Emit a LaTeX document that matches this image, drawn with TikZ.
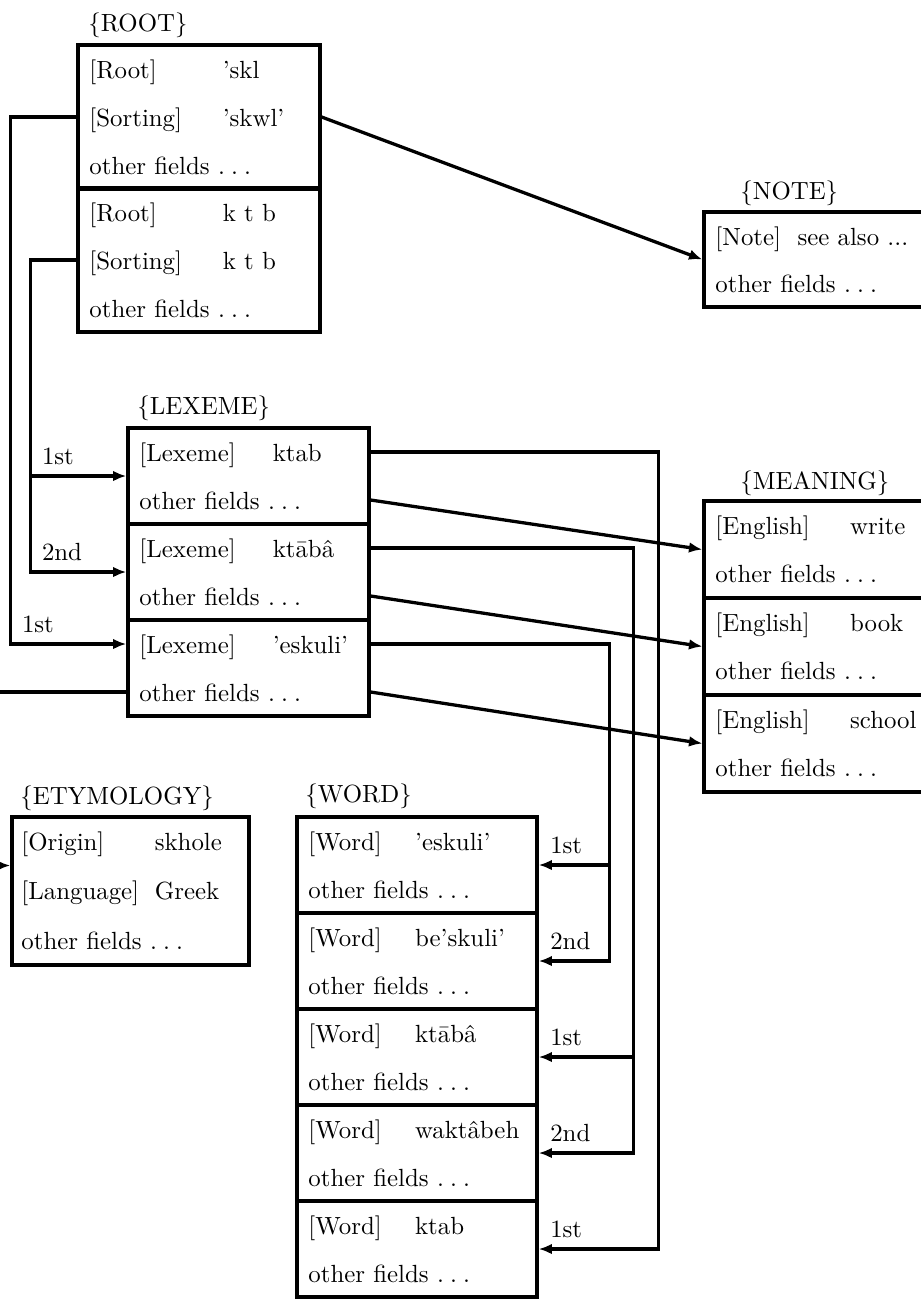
\documentclass[tikz,border=0pt]{standalone}
\usepackage{tikz}
\usetikzlibrary{arrows.meta,positioning,fit,calc}
\tikzset{
  record/.style={draw,line width=1.4pt,inner sep=0pt},
  fld/.style={anchor=west,inner sep=0pt,text height=1.1em,text depth=.25em},
  tag/.style={anchor=base west,inner sep=0pt},
  link/.style={line width=1.4pt},
  arr/.style={link,-{Latex[length=2mm,width=1.6mm]}},
  ordl/.style={anchor=base west,inner sep=0pt,xshift=.15cm,yshift=.17cm},
}
\newcommand{\key}[2]{\makebox[#1][l]{[#2]}}
\newcommand{\sdots}{.\kern.25em.\kern.25em.}

\begin{document}
\begin{tikzpicture}[x=0.015cm,y=-0.015cm,font=\fontsize{10.6}{12.7}\selectfont]
  \useasboundingbox (0,0) rectangle (921,1299);
  % roots
  \node[tag] (roottag) at (88,31) {\{ROOT\}};
  \foreach \i/\t/\v/\s in {1/45/'skl/'skwl',2/188/k t b/k t b}{
    \node[record,fit={(78,\t) (320,\t+144)}] (root\i) {};
    \node[fld] (rootr\i) at (89,\t+24) {\key{2cm}{Root}\v};
    \node[fld] (roots\i) at (89,\t+72) {\key{2cm}{Sorting}\s};
    \node[fld] (rooto\i) at (89,\t+120) {other fields \sdots};}
  % note
  \node[tag] (notetag) at (740,199) {\{NOTE\}};
  \node[record,fit={(704,212) (934,307)}] (note) {};
  \node[fld] (notek) at (715,236) {[Note]\ \ see also ...};
  \node[fld] (noteo) at (715,283) {other fields \sdots};
  % lexemes
  \node[tag] (lextag) at (137,414) {\{LEXEME\}};
  \foreach \i/\t/\v in {1/428/ktab,2/524/ktābâ,3/620/'eskuli'}{
    \node[record,fit={(128,\t) (369,\t+96)}] (lex\i) {};
    \node[fld] (lexk\i) at (139,\t+24) {\key{2cm}{Lexeme}\v};
    \node[fld] (lexo\i) at (139,\t+72) {other fields \sdots};}
  % meanings
  \node[tag] (meantag) at (740,489) {\{MEANING\}};
  \foreach \i/\t/\v in {1/501/write,2/598/book,3/695/school}{
    \node[record,fit={(704,\t) (934,\t+97)}] (mean\i) {};
    \node[fld] (meank\i) at (715,\t+24) {\key{2.02cm}{English}\v};
    \node[fld] (meano\i) at (715,\t+72) {other fields \sdots};}
  % etymology
  \node[tag] (etytag) at (20,804) {\{ETYMOLOGY\}};
  \node[record,fit={(12,817) (249,965)}] (ety) {};
  \node[fld] (etyk) at (21,841) {\key{2cm}{Origin}skhole};
  \node[fld] (etyl) at (21,890) {\key{2cm}{Language}Greek};
  \node[fld] (etyo) at (21,940) {other fields \sdots};
  % words
  \node[tag] (wordtag) at (305,802) {\{WORD\}};
  \foreach \i/\t/\v in {1/817/'eskuli',2/913/be'skuli',3/1009/ktābâ,
                        4/1105/waktâbeh,5/1201/ktab}{
    \node[record,fit={(297,\t) (537,\t+96)}] (word\i) {};
    \node[fld] (wordk\i) at (308,\t+24) {\key{1.6cm}{Word}\v};
    \node[fld] (wordo\i) at (308,\t+72) {other fields \sdots};}

  % root -> lexeme, root -> note
  \coordinate (trunkA) at ($(root1.west)+(-66,0)$);
  \coordinate (trunkB) at ($(root2.west)+(-46,0)$);
  \draw[arr] (root1.west) -- (trunkA) |- (lex3.west |- lexk3) node[ordl,pos=.5] {1st};
  \draw[arr] (root2.west) -- (trunkB) |- (lex1.west) node[ordl,pos=.5] {1st};
  \draw[arr] (trunkB) |- (lex2.west) node[ordl,pos=.5] {2nd};
  \draw[arr] (root1.east) -- (note.west);
  % lexeme -> meaning
  \foreach \i in {1,2,3}
    \draw[arr] (lex\i.east |- lexo\i) -- (mean\i.west);
  % lexeme -> etymology (runs out past the left edge)
  \coordinate (etyin) at ($(etyk)!.5!(etyl)$);
  \draw[arr] (lex3.west |- lexo3) -- ++(-145,0) |- (ety.west |- etyin);
  % lexeme -> words
  \coordinate (trunkC) at ($(lex3.east |- lexk3)+(239,0)$);
  \coordinate (trunkD) at ($(lex2.east |- lexk2)+(263,0)$);
  \coordinate (trunkE) at ($(lex1.east |- lexk1)+(288,0)$);
  \draw[arr] (lex3.east |- lexk3) -- (trunkC) |- (word2.east) node[ordl,pos=1] {2nd};
  \draw[arr] (trunkC) |- (word1.east) node[ordl,pos=1] {1st};
  \draw[arr] (lex2.east |- lexk2) -- (trunkD) |- (word4.east) node[ordl,pos=1] {2nd};
  \draw[arr] (trunkD) |- (word3.east) node[ordl,pos=1] {1st};
  \draw[arr] (lex1.east |- lexk1) -- (trunkE) |- (word5.east) node[ordl,pos=1] {1st};
\end{tikzpicture}
\end{document}
